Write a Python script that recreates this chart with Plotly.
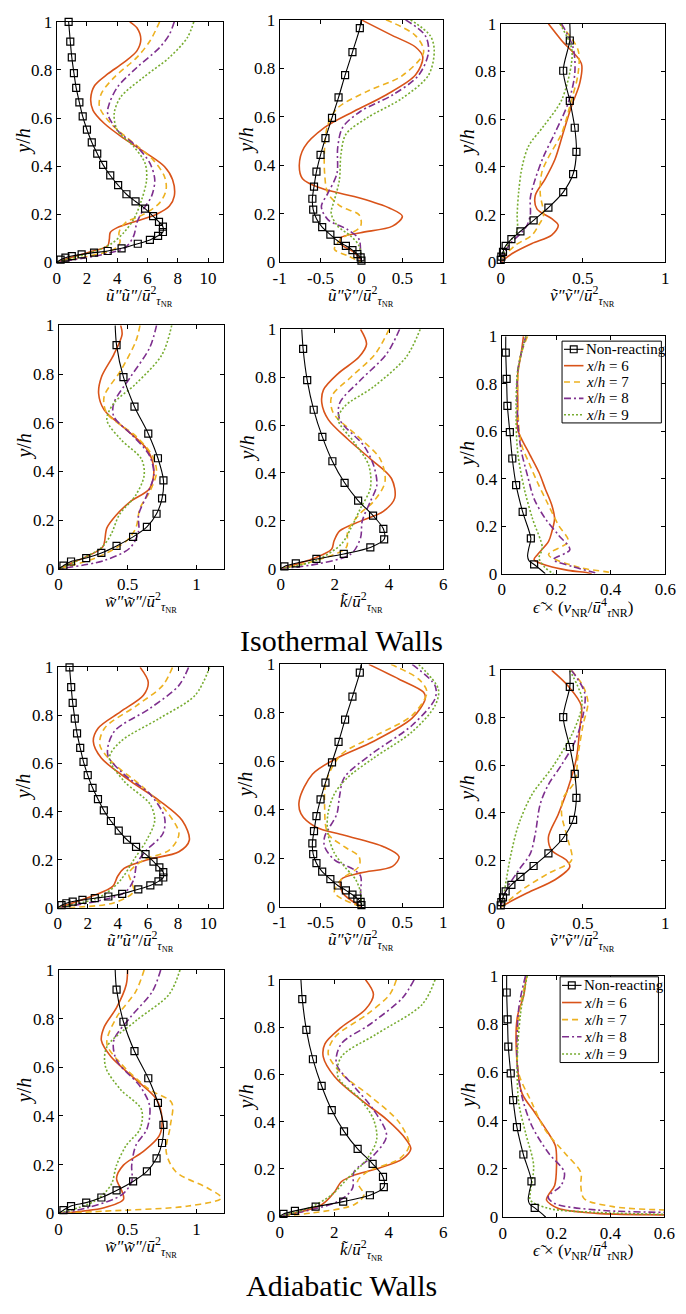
import plotly.graph_objects as go

W, H = 686, 1314
FONT = "Liberation Serif"

# ---------------- tick labels ----------------
Y_TICKS = [0, 0.2, 0.4, 0.6, 0.8, 1]
Y_TICK_TEXT = ["0", "0.2", "0.4", "0.6", "0.8", "1"]
X_TICKS_UU = [0, 2, 4, 6, 8, 10]
X_TEXT_UU = ["0", "2", "4", "6", "8", "10"]
X_TICKS_UV = [-1, -0.5, 0, 0.5, 1]
X_TEXT_UV = ["-1", "-0.5", "0", "0.5", "1"]
X_TICKS_VV = [0, 0.5, 1]
X_TEXT_VV = ["0", "0.5", "1"]
X_TICKS_WW = [0, 0.5, 1]
X_TEXT_WW = ["0", "0.5", "1"]
X_TICKS_K = [0, 2, 4, 6]
X_TEXT_K = ["0", "2", "4", "6"]
X_TICKS_EPS = [0, 0.2, 0.4, 0.6]
X_TEXT_EPS = ["0", "0.2", "0.4", "0.6"]

SERIES_NAMES = ["Non-reacting", "<i>x</i>/<i>h</i> = 6", "<i>x</i>/<i>h</i> = 7",
                "<i>x</i>/<i>h</i> = 8", "<i>x</i>/<i>h</i> = 9"]

# ---------------- non-reacting profiles: (y/h, value) ----------------
NR_UU_MARK = [(1.0, 0.79), (0.918, 0.9), (0.852, 1.0), (0.787, 1.14), (0.725, 1.29), (0.665, 1.5),
              (0.607, 1.72), (0.552, 2.0), (0.499, 2.32), (0.452, 2.68), (0.405, 3.07), (0.361, 3.54),
              (0.321, 4.06), (0.283, 4.61), (0.253, 5.21), (0.223, 5.84), (0.192, 6.37), (0.168, 6.76),
              (0.148, 7.02), (0.126, 7.02), (0.11, 6.7), (0.093, 6.16), (0.077, 5.36), (0.058, 4.29),
              (0.047, 3.37), (0.040, 2.47), (0.033, 1.65), (0.026, 1.0), (0.019, 0.58), (0.011, 0.26)]
NR_UU_EXTRA = [(0.0, 0.0)]

NR_UV_MARK = [(0.966, -0.02), (0.867, -0.11), (0.772, -0.2), (0.68, -0.28), (0.596, -0.36), (0.512, -0.44),
              (0.443, -0.5), (0.374, -0.55), (0.312, -0.58), (0.262, -0.6), (0.217, -0.59), (0.18, -0.55),
              (0.145, -0.48), (0.114, -0.38), (0.088, -0.29), (0.068, -0.19), (0.05, -0.11), (0.034, -0.05),
              (0.02, -0.01), (0.007, 0.0)]
NR_UV_EXTRA = [(1.0, -0.005)]

NR_VV_MARK = [(0.93, 0.42), (0.803, 0.38), (0.677, 0.42), (0.564, 0.45), (0.463, 0.46), (0.37, 0.44),
              (0.294, 0.38), (0.229, 0.29), (0.176, 0.2), (0.13, 0.12), (0.097, 0.065), (0.069, 0.03),
              (0.044, 0.014), (0.024, 0.004), (0.01, 0.0)]
NR_VV_EXTRA = [(1.0, 0.42), (0.0, 0.0)]

NR_WW_MARK = [(0.919, 0.42), (0.787, 0.47), (0.666, 0.55), (0.555, 0.65), (0.454, 0.72), (0.363, 0.76),
              (0.289, 0.75), (0.226, 0.71), (0.172, 0.64), (0.131, 0.54), (0.094, 0.42), (0.065, 0.31),
              (0.044, 0.2), (0.03, 0.09), (0.013, 0.035)]
NR_WW_EXTRA = [(1.0, 0.41), (0.0, 0.0)]

NR_K_MARK = [(0.918, 0.83), (0.788, 0.98), (0.664, 1.22), (0.551, 1.54), (0.449, 1.91), (0.359, 2.36),
             (0.285, 2.86), (0.222, 3.41), (0.167, 3.79), (0.123, 3.82), (0.089, 3.31), (0.062, 2.33),
             (0.041, 1.32), (0.023, 0.56), (0.01, 0.14)]
NR_K_EXTRA = [(1.0, 0.78), (0.0, 0.0)]

NR_EPS_MARK = [(0.931, 0.015), (0.82, 0.018), (0.707, 0.021), (0.596, 0.03), (0.485, 0.039), (0.373, 0.053),
               (0.26, 0.077), (0.149, 0.107), (0.039, 0.119)]
NR_EPS_EXTRA = [(1.0, 0.015), (0.11, 0.1), (0.075, 0.095), (0.055, 0.1), (0.02, 0.14), (0.0, 0.16)]

# ---------------- isothermal walls: (y/h, value) ----------------
ISO_UU_6 = [(1.0, 4.83), (0.975, 5.3), (0.927, 5.56), (0.879, 5.3), (0.831, 4.44), (0.783, 3.37), (0.735, 2.51),
            (0.68, 2.25), (0.632, 2.4), (0.577, 3.15), (0.515, 4.44), (0.453, 5.94), (0.398, 7.12), (0.343, 7.66),
            (0.275, 7.77), (0.234, 7.45), (0.2, 6.6), (0.172, 5.3), (0.144, 4.0), (0.124, 3.54), (0.096, 3.48),
            (0.069, 3.37), (0.041, 2.08), (0.021, 1.0), (0.0, 0.0)]
ISO_UU_7 = [(1.0, 6.8), (0.92, 6.16), (0.852, 5.3), (0.769, 3.8), (0.7, 2.94), (0.646, 2.83), (0.577, 3.58),
            (0.495, 5.09), (0.426, 6.37), (0.357, 7.12), (0.302, 7.23), (0.247, 6.8), (0.199, 5.73), (0.165, 4.55),
            (0.124, 4.12), (0.082, 4.18), (0.055, 3.8), (0.025, 2.08), (0.0, 0.0)]
ISO_UU_8 = [(1.0, 7.77), (0.948, 7.45), (0.893, 6.8), (0.81, 5.3), (0.728, 4.01), (0.66, 3.48), (0.618, 3.37),
            (0.549, 4.01), (0.481, 5.3), (0.412, 6.16), (0.343, 6.48), (0.275, 6.27), (0.22, 5.73), (0.165, 5.3),
            (0.11, 5.09), (0.062, 4.55), (0.034, 3.15), (0.0, 0.0)]
ISO_UU_9 = [(1.0, 9.06), (0.934, 8.63), (0.852, 7.45), (0.769, 5.73), (0.687, 4.23), (0.618, 3.8), (0.549, 4.01),
            (0.481, 5.09), (0.412, 5.84), (0.343, 5.94), (0.261, 5.62), (0.179, 5.09), (0.124, 4.44), (0.076, 3.58),
            (0.041, 2.3), (0.0, 0.0)]

ISO_UV_6 = [(1.0, 0.0), (0.935, 0.38), (0.888, 0.66), (0.847, 0.75), (0.772, 0.66), (0.69, 0.3), (0.623, -0.09),
            (0.556, -0.45), (0.474, -0.7), (0.4, -0.76), (0.345, -0.72), (0.305, -0.49), (0.264, -0.01),
            (0.224, 0.34), (0.19, 0.5), (0.149, 0.38), (0.122, -0.01), (0.102, -0.25), (0.075, -0.25),
            (0.041, -0.09), (0.007, 0.0)]
ISO_UV_7 = [(1.0, 0.3), (0.935, 0.66), (0.867, 0.76), (0.77, 0.5), (0.705, 0.07), (0.637, -0.29), (0.569, -0.41),
            (0.474, -0.45), (0.366, -0.45), (0.285, -0.41), (0.23, -0.25), (0.196, -0.03), (0.149, -0.01),
            (0.095, -0.25), (0.054, -0.33), (0.027, -0.17), (0.0, 0.0)]
ISO_UV_8 = [(1.0, 0.54), (0.935, 0.78), (0.867, 0.82), (0.772, 0.7), (0.69, 0.38), (0.623, -0.01), (0.556, -0.23),
            (0.474, -0.29), (0.366, -0.3), (0.285, -0.41), (0.23, -0.49), (0.176, -0.41), (0.135, -0.17),
            (0.095, -0.03), (0.04, -0.01), (0.0, 0.0)]
ISO_UV_9 = [(1.0, 0.6), (0.935, 0.84), (0.874, 0.89), (0.772, 0.82), (0.677, 0.5), (0.596, 0.07), (0.528, -0.19),
            (0.447, -0.25), (0.339, -0.27), (0.257, -0.33), (0.203, -0.37), (0.149, -0.29), (0.108, -0.13),
            (0.068, -0.03), (0.0, 0.0)]

ISO_VV_6 = [(1.0, 0.29), (0.93, 0.37), (0.834, 0.49), (0.75, 0.48), (0.654, 0.43), (0.543, 0.38), (0.432, 0.33),
            (0.349, 0.27), (0.28, 0.21), (0.224, 0.22), (0.183, 0.31), (0.155, 0.35), (0.114, 0.31), (0.079, 0.19),
            (0.037, 0.07), (0.0, 0.0)]
ISO_VV_7 = [(1.0, 0.36), (0.89, 0.47), (0.79, 0.47), (0.68, 0.43), (0.54, 0.37), (0.44, 0.29), (0.377, 0.25),
            (0.29, 0.24), (0.197, 0.26), (0.155, 0.23), (0.114, 0.19), (0.072, 0.09), (0.017, 0.01), (0.0, 0.0)]
ISO_VV_8 = [(1.0, 0.37), (0.9, 0.44), (0.79, 0.45), (0.668, 0.41), (0.543, 0.33), (0.443, 0.26), (0.349, 0.21),
            (0.27, 0.18), (0.2, 0.18), (0.155, 0.16), (0.12, 0.12), (0.072, 0.05), (0.0, 0.0)]
ISO_VV_9 = [(1.0, 0.36), (0.9, 0.43), (0.834, 0.43), (0.68, 0.37), (0.57, 0.26), (0.488, 0.17), (0.4, 0.13),
            (0.3, 0.11), (0.2, 0.1), (0.13, 0.1), (0.1, 0.07), (0.06, 0.03), (0.0, 0.0)]

ISO_WW_6 = [(1.0, 0.45), (0.962, 0.46), (0.88, 0.4), (0.787, 0.31), (0.72, 0.29), (0.653, 0.33), (0.572, 0.49),
            (0.491, 0.64), (0.41, 0.69), (0.33, 0.66), (0.276, 0.52), (0.222, 0.42), (0.168, 0.35), (0.09, 0.32),
            (0.05, 0.2), (0.02, 0.08), (0.0, 0.0)]
ISO_WW_7 = [(1.0, 0.59), (0.935, 0.56), (0.814, 0.45), (0.707, 0.33), (0.639, 0.35), (0.545, 0.56), (0.464, 0.68),
            (0.397, 0.71), (0.316, 0.66), (0.249, 0.59), (0.168, 0.56), (0.114, 0.49), (0.047, 0.28), (0.0, 0.0)]
ISO_WW_8 = [(1.0, 0.71), (0.908, 0.66), (0.787, 0.52), (0.68, 0.4), (0.626, 0.4), (0.545, 0.54), (0.464, 0.66),
            (0.384, 0.69), (0.303, 0.64), (0.222, 0.58), (0.155, 0.58), (0.087, 0.52), (0.034, 0.33), (0.0, 0.0)]
ISO_WW_9 = [(1.0, 0.82), (0.88, 0.75), (0.76, 0.56), (0.68, 0.4), (0.612, 0.35), (0.532, 0.45), (0.451, 0.6),
            (0.384, 0.62), (0.303, 0.56), (0.222, 0.44), (0.141, 0.38), (0.087, 0.31), (0.034, 0.14), (0.0, 0.0)]

ISO_K_6 = [(1.0, 2.95), (0.938, 3.17), (0.884, 2.89), (0.815, 2.12), (0.747, 1.58), (0.692, 1.52), (0.623, 1.76),
           (0.541, 2.48), (0.459, 3.31), (0.377, 4.09), (0.295, 4.21), (0.24, 3.79), (0.199, 2.95), (0.158, 2.18),
           (0.116, 1.97), (0.082, 1.88), (0.041, 1.16), (0.0, 0.0)]
ISO_K_7 = [(1.0, 4.0), (0.897, 3.49), (0.801, 2.6), (0.719, 1.88), (0.651, 1.94), (0.555, 2.83), (0.459, 3.67),
           (0.363, 3.85), (0.281, 3.43), (0.226, 2.89), (0.158, 2.48), (0.089, 2.42), (0.034, 1.28), (0.0, 0.0)]
ISO_K_8 = [(1.0, 4.39), (0.897, 3.91), (0.788, 2.95), (0.692, 2.18), (0.623, 2.18), (0.514, 3.07), (0.432, 3.43),
           (0.349, 3.55), (0.281, 3.31), (0.199, 3.01), (0.13, 2.95), (0.062, 2.6), (0.021, 1.4), (0.0, 0.0)]
ISO_K_9 = [(1.0, 5.15), (0.884, 4.63), (0.76, 3.43), (0.678, 2.36), (0.623, 2.12), (0.527, 2.72), (0.432, 3.25),
           (0.336, 3.31), (0.253, 2.95), (0.171, 2.6), (0.103, 2.24), (0.034, 1.28), (0.0, 0.0)]

ISO_EPS_6 = [(1.0, 0.08), (0.924, 0.071), (0.841, 0.059), (0.716, 0.059), (0.606, 0.059), (0.509, 0.1),
             (0.426, 0.137), (0.357, 0.16), (0.288, 0.184), (0.232, 0.194), (0.177, 0.184), (0.136, 0.172),
             (0.08, 0.131), (0.059, 0.119), (0.032, 0.172), (0.014, 0.244), (0.004, 0.315), (0.0, 0.33)]
ISO_EPS_7 = [(1.0, 0.095), (0.896, 0.065), (0.716, 0.059), (0.55, 0.071), (0.467, 0.1), (0.385, 0.131),
             (0.302, 0.166), (0.205, 0.208), (0.136, 0.244), (0.08, 0.172), (0.025, 0.29), (0.004, 0.398),
             (0.0, 0.4)]
ISO_EPS_8 = [(1.0, 0.089), (0.855, 0.059), (0.647, 0.059), (0.523, 0.071), (0.412, 0.095), (0.315, 0.119),
             (0.232, 0.16), (0.163, 0.208), (0.101, 0.25), (0.06, 0.19), (0.03, 0.26), (0.005, 0.34), (0.0, 0.35)]
ISO_EPS_9 = [(1.0, 0.089), (0.855, 0.059), (0.647, 0.053), (0.509, 0.059), (0.357, 0.083), (0.232, 0.113),
             (0.108, 0.149), (0.066, 0.137), (0.025, 0.16), (0.004, 0.184), (0.0, 0.19)]

# ---------------- adiabatic walls: (y/h, value) ----------------
ADI_UU_6 = [(1.0, 5.48), (0.938, 6.02), (0.884, 5.7), (0.816, 4.19), (0.747, 2.69), (0.692, 2.37), (0.623, 2.9),
            (0.527, 4.84), (0.445, 6.77), (0.363, 8.28), (0.281, 8.75), (0.233, 8.06), (0.199, 5.91), (0.164, 4.41),
            (0.13, 3.98), (0.089, 3.66), (0.048, 2.26), (0.0, 0.0)]
ADI_UU_7 = [(1.0, 7.63), (0.925, 6.99), (0.842, 5.27), (0.747, 3.12), (0.678, 2.8), (0.61, 3.55), (0.5, 5.7),
            (0.404, 7.2), (0.308, 8.06), (0.24, 7.42), (0.199, 5.7), (0.144, 4.73), (0.116, 4.84), (0.068, 5.05),
            (0.021, 3.76), (0.0, 0.0)]
ADI_UU_8 = [(1.0, 8.7), (0.925, 8.06), (0.829, 6.13), (0.733, 3.76), (0.637, 3.33), (0.555, 4.41), (0.473, 6.13),
            (0.377, 7.1), (0.308, 6.99), (0.24, 5.91), (0.185, 5.27), (0.116, 5.05), (0.062, 4.41), (0.0, 0.0)]
ADI_UU_9 = [(1.0, 10.1), (0.884, 9.14), (0.788, 6.77), (0.692, 4.19), (0.623, 3.44), (0.527, 4.41), (0.432, 6.13),
            (0.363, 6.45), (0.281, 5.91), (0.199, 5.05), (0.116, 4.19), (0.048, 2.9), (0.0, 0.0)]

ADI_UV_6 = [(1.0, 0.09), (0.939, 0.46), (0.885, 0.76), (0.859, 0.78), (0.778, 0.62), (0.683, 0.15), (0.615, -0.29),
            (0.547, -0.6), (0.439, -0.76), (0.384, -0.74), (0.329, -0.56), (0.295, -0.21), (0.248, 0.27),
            (0.207, 0.46), (0.167, 0.38), (0.14, -0.01), (0.112, -0.25), (0.058, -0.23), (0.0, 0.0)]
ADI_UV_7 = [(1.0, 0.36), (0.939, 0.7), (0.885, 0.8), (0.79, 0.62), (0.709, 0.19), (0.627, -0.25), (0.518, -0.43),
            (0.41, -0.45), (0.302, -0.41), (0.248, -0.21), (0.207, -0.03), (0.167, -0.03), (0.112, -0.25),
            (0.058, -0.33), (0.0, 0.0)]
ADI_UV_8 = [(1.0, 0.62), (0.912, 0.9), (0.859, 0.9), (0.749, 0.62), (0.627, 0.11), (0.533, -0.21), (0.451, -0.27),
            (0.384, -0.3), (0.289, -0.45), (0.248, -0.45), (0.194, -0.33), (0.153, -0.09), (0.126, -0.01),
            (0.058, -0.01), (0.0, 0.0)]
ADI_UV_9 = [(1.0, 0.7), (0.898, 0.94), (0.83, 0.9), (0.722, 0.62), (0.614, 0.15), (0.533, -0.17), (0.466, -0.33),
            (0.384, -0.41), (0.302, -0.41), (0.221, -0.33), (0.167, -0.21), (0.112, -0.07), (0.058, -0.01),
            (0.0, 0.0)]

ADI_VV_6 = [(1.0, 0.31), (0.934, 0.41), (0.851, 0.49), (0.754, 0.48), (0.629, 0.46), (0.505, 0.41), (0.394, 0.35),
            (0.297, 0.29), (0.242, 0.31), (0.2, 0.4), (0.173, 0.42), (0.118, 0.33), (0.062, 0.16), (0.007, 0.01),
            (0.0, 0.0)]
ADI_VV_7 = [(1.0, 0.43), (0.934, 0.5), (0.864, 0.53), (0.768, 0.5), (0.643, 0.47), (0.532, 0.45), (0.463, 0.38),
            (0.394, 0.37), (0.284, 0.41), (0.2, 0.43), (0.145, 0.29), (0.076, 0.13), (0.007, 0.01), (0.0, 0.0)]
ADI_VV_8 = [(1.0, 0.43), (0.906, 0.51), (0.809, 0.5), (0.698, 0.45), (0.602, 0.37), (0.519, 0.29), (0.436, 0.24),
            (0.311, 0.21), (0.228, 0.18), (0.159, 0.11), (0.076, 0.034), (0.0, 0.0)]
ADI_VV_9 = [(1.0, 0.42), (0.892, 0.49), (0.837, 0.49), (0.726, 0.43), (0.588, 0.31), (0.477, 0.19), (0.353, 0.11),
            (0.228, 0.063), (0.118, 0.034), (0.035, 0.014), (0.0, 0.0)]

ADI_WW_6 = [(1.0, 0.5), (0.939, 0.49), (0.845, 0.42), (0.765, 0.33), (0.71, 0.31), (0.643, 0.38), (0.549, 0.56),
            (0.468, 0.71), (0.387, 0.75), (0.319, 0.73), (0.252, 0.61), (0.198, 0.47), (0.144, 0.42), (0.09, 0.46),
            (0.057, 0.47), (0.023, 0.33), (0.0, 0.0)]
ADI_WW_7 = [(1.0, 0.62), (0.912, 0.56), (0.805, 0.42), (0.697, 0.35), (0.616, 0.45), (0.508, 0.66), (0.454, 0.82),
            (0.36, 0.81), (0.252, 0.78), (0.171, 0.85), (0.104, 1.08), (0.063, 1.18), (0.03, 0.94), (0.009, 0.33),
            (0.0, 0.0)]
ADI_WW_8 = [(1.0, 0.74), (0.912, 0.68), (0.805, 0.52), (0.71, 0.4), (0.629, 0.42), (0.522, 0.59), (0.441, 0.66),
            (0.346, 0.64), (0.279, 0.56), (0.198, 0.53), (0.131, 0.53), (0.077, 0.46), (0.023, 0.21), (0.0, 0.0)]
ADI_WW_9 = [(1.0, 0.88), (0.899, 0.8), (0.791, 0.56), (0.684, 0.35), (0.602, 0.34), (0.508, 0.45), (0.427, 0.6),
            (0.346, 0.59), (0.279, 0.49), (0.198, 0.42), (0.117, 0.38), (0.05, 0.26), (0.0, 0.0)]

ADI_K_6 = [(1.0, 3.15), (0.938, 3.44), (0.875, 3.15), (0.799, 2.26), (0.729, 1.66), (0.674, 1.6), (0.59, 2.02),
           (0.493, 2.97), (0.41, 3.92), (0.326, 4.63), (0.285, 4.81), (0.243, 4.51), (0.201, 3.56), (0.174, 2.73),
           (0.146, 2.26), (0.104, 2.02), (0.049, 1.54), (0.0, 0.0)]
ADI_K_7 = [(1.0, 4.28), (0.938, 4.04), (0.854, 3.21), (0.757, 2.02), (0.688, 1.78), (0.604, 2.26), (0.507, 3.33),
           (0.396, 4.39), (0.299, 4.75), (0.243, 4.39), (0.188, 3.21), (0.146, 2.85), (0.09, 3.09), (0.049, 2.73),
           (0.014, 1.19), (0.0, 0.0)]
ADI_K_8 = [(1.0, 4.93), (0.924, 4.51), (0.813, 3.33), (0.729, 2.26), (0.646, 2.08), (0.549, 2.73), (0.451, 3.44),
           (0.34, 3.92), (0.257, 3.44), (0.188, 2.73), (0.118, 2.67), (0.063, 2.14), (0.0, 0.0)]
ADI_K_9 = [(1.0, 5.7), (0.896, 5.23), (0.771, 3.56), (0.674, 2.26), (0.59, 2.14), (0.493, 2.97), (0.41, 3.44),
           (0.326, 3.56), (0.243, 3.21), (0.16, 2.49), (0.09, 1.9), (0.035, 1.07), (0.0, 0.0)]

ADI_EPS_6 = [(1.0, 0.087), (0.921, 0.079), (0.826, 0.054), (0.636, 0.054), (0.513, 0.072), (0.431, 0.121),
             (0.35, 0.169), (0.295, 0.196), (0.214, 0.2), (0.132, 0.193), (0.091, 0.169), (0.071, 0.163),
             (0.037, 0.205), (0.016, 0.35), (0.01, 0.6), (0.008, 0.7)]
ADI_EPS_7 = [(1.0, 0.091), (0.88, 0.066), (0.731, 0.054), (0.595, 0.06), (0.473, 0.109), (0.363, 0.157),
             (0.268, 0.229), (0.186, 0.29), (0.132, 0.29), (0.078, 0.302), (0.044, 0.41), (0.03, 0.6), (0.027, 0.7)]
ADI_EPS_8 = [(1.0, 0.085), (0.867, 0.06), (0.636, 0.054), (0.499, 0.072), (0.377, 0.109), (0.268, 0.169),
             (0.186, 0.229), (0.132, 0.217), (0.084, 0.169), (0.057, 0.193), (0.03, 0.35), (0.02, 0.6), (0.018, 0.7)]
ADI_EPS_9 = [(1.0, 0.091), (0.839, 0.066), (0.636, 0.054), (0.472, 0.06), (0.35, 0.085), (0.214, 0.115),
             (0.105, 0.103), (0.071, 0.103), (0.037, 0.169), (0.02, 0.35), (0.012, 0.6), (0.01, 0.7)]

# ---------------- axis labels ----------------
TAU = "<i>ū</i><sup>2</sup><sub><i>τ</i><sub>NR</sub></sub>"
LBL_UU = "<i>ũ″ũ″</i>/" + TAU
LBL_UV = "<i>ũ″ṽ″</i>/" + TAU
LBL_VV = "<i>ṽ″ṽ″</i>/" + TAU
LBL_WW = "<i>w̃″w̃″</i>/" + TAU
LBL_K = "<i>k̃</i>/" + TAU
LBL_EPS = "<i>ϵ̃</i> × (<i>ν</i><sub>NR</sub>/<i>ū</i><sup>4</sup><sub><i>τ</i>NR</sub>)"
LBL_Y = "<i>y</i>/<i>h</i>"
TITLE_ISO = "Isothermal Walls"
TITLE_ADI = "Adiabatic Walls"

# ---------------- layout geometry (pixels: left, right, top, bottom) ----------------
BOXES = [
    (51, 222, 13, 257), (280, 448, 11, 257), (507, 676, 15, 257),
    (53, 223, 321, 568), (281, 448, 325, 568), (508, 676, 332, 573),
    (52, 222, 668, 912), (280, 448, 665, 911), (507, 676, 671, 912),
    (53, 223, 975, 1222), (280, 448, 985, 1225), (509, 675, 981, 1226),
]
# legend boxes (pixels: left, right, top, bottom) for panels 6 and 12
LEGEND_BOXES = {5: (570, 672, 337, 420), 11: (568, 669, 982, 1069)}

QUANT = [
    ([0, 11], X_TICKS_UU, X_TEXT_UU, LBL_UU, NR_UU_MARK, NR_UU_EXTRA),
    ([-1, 1], X_TICKS_UV, X_TEXT_UV, LBL_UV, NR_UV_MARK, NR_UV_EXTRA),
    ([0, 1], X_TICKS_VV, X_TEXT_VV, LBL_VV, NR_VV_MARK, NR_VV_EXTRA),
    ([0, 1.2], X_TICKS_WW, X_TEXT_WW, LBL_WW, NR_WW_MARK, NR_WW_EXTRA),
    ([0, 6], X_TICKS_K, X_TEXT_K, LBL_K, NR_K_MARK, NR_K_EXTRA),
    ([0, 0.6], X_TICKS_EPS, X_TEXT_EPS, LBL_EPS, NR_EPS_MARK, NR_EPS_EXTRA),
]

ISO = [(ISO_UU_6, ISO_UU_7, ISO_UU_8, ISO_UU_9), (ISO_UV_6, ISO_UV_7, ISO_UV_8, ISO_UV_9),
       (ISO_VV_6, ISO_VV_7, ISO_VV_8, ISO_VV_9), (ISO_WW_6, ISO_WW_7, ISO_WW_8, ISO_WW_9),
       (ISO_K_6, ISO_K_7, ISO_K_8, ISO_K_9), (ISO_EPS_6, ISO_EPS_7, ISO_EPS_8, ISO_EPS_9)]
ADI = [(ADI_UU_6, ADI_UU_7, ADI_UU_8, ADI_UU_9), (ADI_UV_6, ADI_UV_7, ADI_UV_8, ADI_UV_9),
       (ADI_VV_6, ADI_VV_7, ADI_VV_8, ADI_VV_9), (ADI_WW_6, ADI_WW_7, ADI_WW_8, ADI_WW_9),
       (ADI_K_6, ADI_K_7, ADI_K_8, ADI_K_9), (ADI_EPS_6, ADI_EPS_7, ADI_EPS_8, ADI_EPS_9)]

STYLES = [
    dict(color="#D95319", width=1.6, dash="solid"),
    dict(color="#EDB120", width=1.6, dash="6px,4px"),
    dict(color="#7E2F8E", width=1.6, dash="7px,3px,2px,3px"),
    dict(color="#77AC30", width=1.6, dash="2px,2px"),
]

TICK_FONT = dict(family=FONT, size=17, color="black")


def split(pairs):
    ys = [p[0] for p in pairs]
    xs = [p[1] for p in pairs]
    return xs, ys


def px(xp):
    return xp / W


def py(yp):
    return 1 - yp / H


fig = go.Figure()
layout = dict(width=W, height=H, margin=dict(l=0, r=0, t=0, b=0),
              paper_bgcolor="white", plot_bgcolor="white", showlegend=False,
              font=dict(family=FONT, size=15, color="black"))
annotations = []
shapes = []

panels = []
for blk, data in enumerate([ISO, ADI]):
    for q in range(6):
        panels.append((q, data[q], 6 * blk + q))

for q, curves, idx in panels:
    n = idx + 1
    sfx = "" if n == 1 else str(n)
    xref, yref = "x" + sfx, "y" + sfx
    l, r, t, b = BOXES[idx]
    xr, xt, xtt, xlabel, nr_mark, nr_extra = QUANT[q]

    layout["xaxis" + sfx] = dict(domain=[l / W, r / W], range=xr, anchor=yref, tickvals=xt, ticktext=xtt,
                                 showline=True, mirror="ticks", linecolor="black", linewidth=1,
                                 ticks="inside", ticklen=4, tickcolor="black", showgrid=False, zeroline=False,
                                 tickfont=TICK_FONT, fixedrange=True)
    layout["yaxis" + sfx] = dict(domain=[1 - b / H, 1 - t / H], range=[0, 1], anchor=xref, tickvals=Y_TICKS,
                                 ticktext=Y_TICK_TEXT, showline=True, mirror="ticks", linecolor="black",
                                 linewidth=1, ticks="inside", ticklen=4, tickcolor="black", showgrid=False,
                                 zeroline=False, tickfont=TICK_FONT, fixedrange=True)

    # coloured profiles
    for k, pairs in enumerate(curves):
        xs, ys = split(pairs)
        fig.add_trace(go.Scatter(x=xs, y=ys, mode="lines",
                                 line=dict(shape="spline", smoothing=0.9, **STYLES[k]),
                                 name=SERIES_NAMES[k + 1], xaxis=xref, yaxis=yref))

    # non-reacting profile: line through markers and extra points
    line_pairs = sorted(nr_mark + nr_extra, key=lambda p: -p[0])
    lx, ly = split(line_pairs)
    fig.add_trace(go.Scatter(x=lx, y=ly, mode="lines", line=dict(color="black", width=1.1, shape="spline",
                                                               smoothing=0.8),
                             xaxis=xref, yaxis=yref, name=SERIES_NAMES[0], hoverinfo="skip"))
    mx, my = split(nr_mark)
    fig.add_trace(go.Scatter(x=mx, y=my, mode="markers", cliponaxis=False,
                             marker=dict(symbol="square-open", size=7, color="black", line=dict(width=1.2)),
                             xaxis=xref, yaxis=yref, name=SERIES_NAMES[0]))

    # axis labels
    annotations.append(dict(text=xlabel, x=(l + r) / 2 / W, y=1 - (b + 34) / H, xref="paper", yref="paper",
                            showarrow=False, xanchor="center", yanchor="middle",
                            font=dict(family=FONT, size=17, color="black")))
    annotations.append(dict(text=LBL_Y, x=(l - 35) / W, y=1 - (t + b) / 2 / H, xref="paper", yref="paper",
                            showarrow=False, xanchor="center", yanchor="middle", textangle=-90,
                            font=dict(family=FONT, size=20, color="black")))

    # legend box drawn in the panel corner
    if idx in LEGEND_BOXES:
        bl, br, bt, bb = LEGEND_BOXES[idx]
        shapes.append(dict(type="rect", xref="paper", yref="paper", x0=px(bl), x1=px(br), y0=py(bb), y1=py(bt),
                           line=dict(color="black", width=1), fillcolor="white", layer="above"))
        step = (bb - bt) / 5.0
        for e in range(5):
            yc = bt + step * (e + 0.5)
            x0, x1 = bl + 2, bl + 22
            if e == 0:
                lstyle = dict(color="black", width=1.1)
            else:
                st = STYLES[e - 1]
                lstyle = dict(color=st["color"], width=st["width"], dash=st["dash"])
            shapes.append(dict(type="line", xref="paper", yref="paper", x0=px(x0), x1=px(x1), y0=py(yc),
                               y1=py(yc), line=lstyle, layer="above"))
            if e == 0:
                xm = (x0 + x1) / 2
                shapes.append(dict(type="rect", xref="paper", yref="paper", x0=px(xm - 3.5), x1=px(xm + 3.5),
                                   y0=py(yc + 3.5), y1=py(yc - 3.5), line=dict(color="black", width=1.2),
                                   fillcolor="rgba(0,0,0,0)", layer="above"))
            annotations.append(dict(text=SERIES_NAMES[e], x=px(x1 + 1), y=py(yc), xref="paper", yref="paper",
                                    showarrow=False, xanchor="left", yanchor="middle",
                                    font=dict(family=FONT, size=15, color="black")))

annotations.append(dict(text=TITLE_ISO, x=343 / W, y=1 - 641 / H, xref="paper", yref="paper", showarrow=False,
                        xanchor="center", yanchor="middle", font=dict(family=FONT, size=30, color="black")))
annotations.append(dict(text=TITLE_ADI, x=343 / W, y=1 - 1295 / H, xref="paper", yref="paper", showarrow=False,
                        xanchor="center", yanchor="middle", font=dict(family=FONT, size=30, color="black")))

layout["annotations"] = annotations
layout["shapes"] = shapes

fig.update_layout(**layout)
fig.write_html("out.html")
